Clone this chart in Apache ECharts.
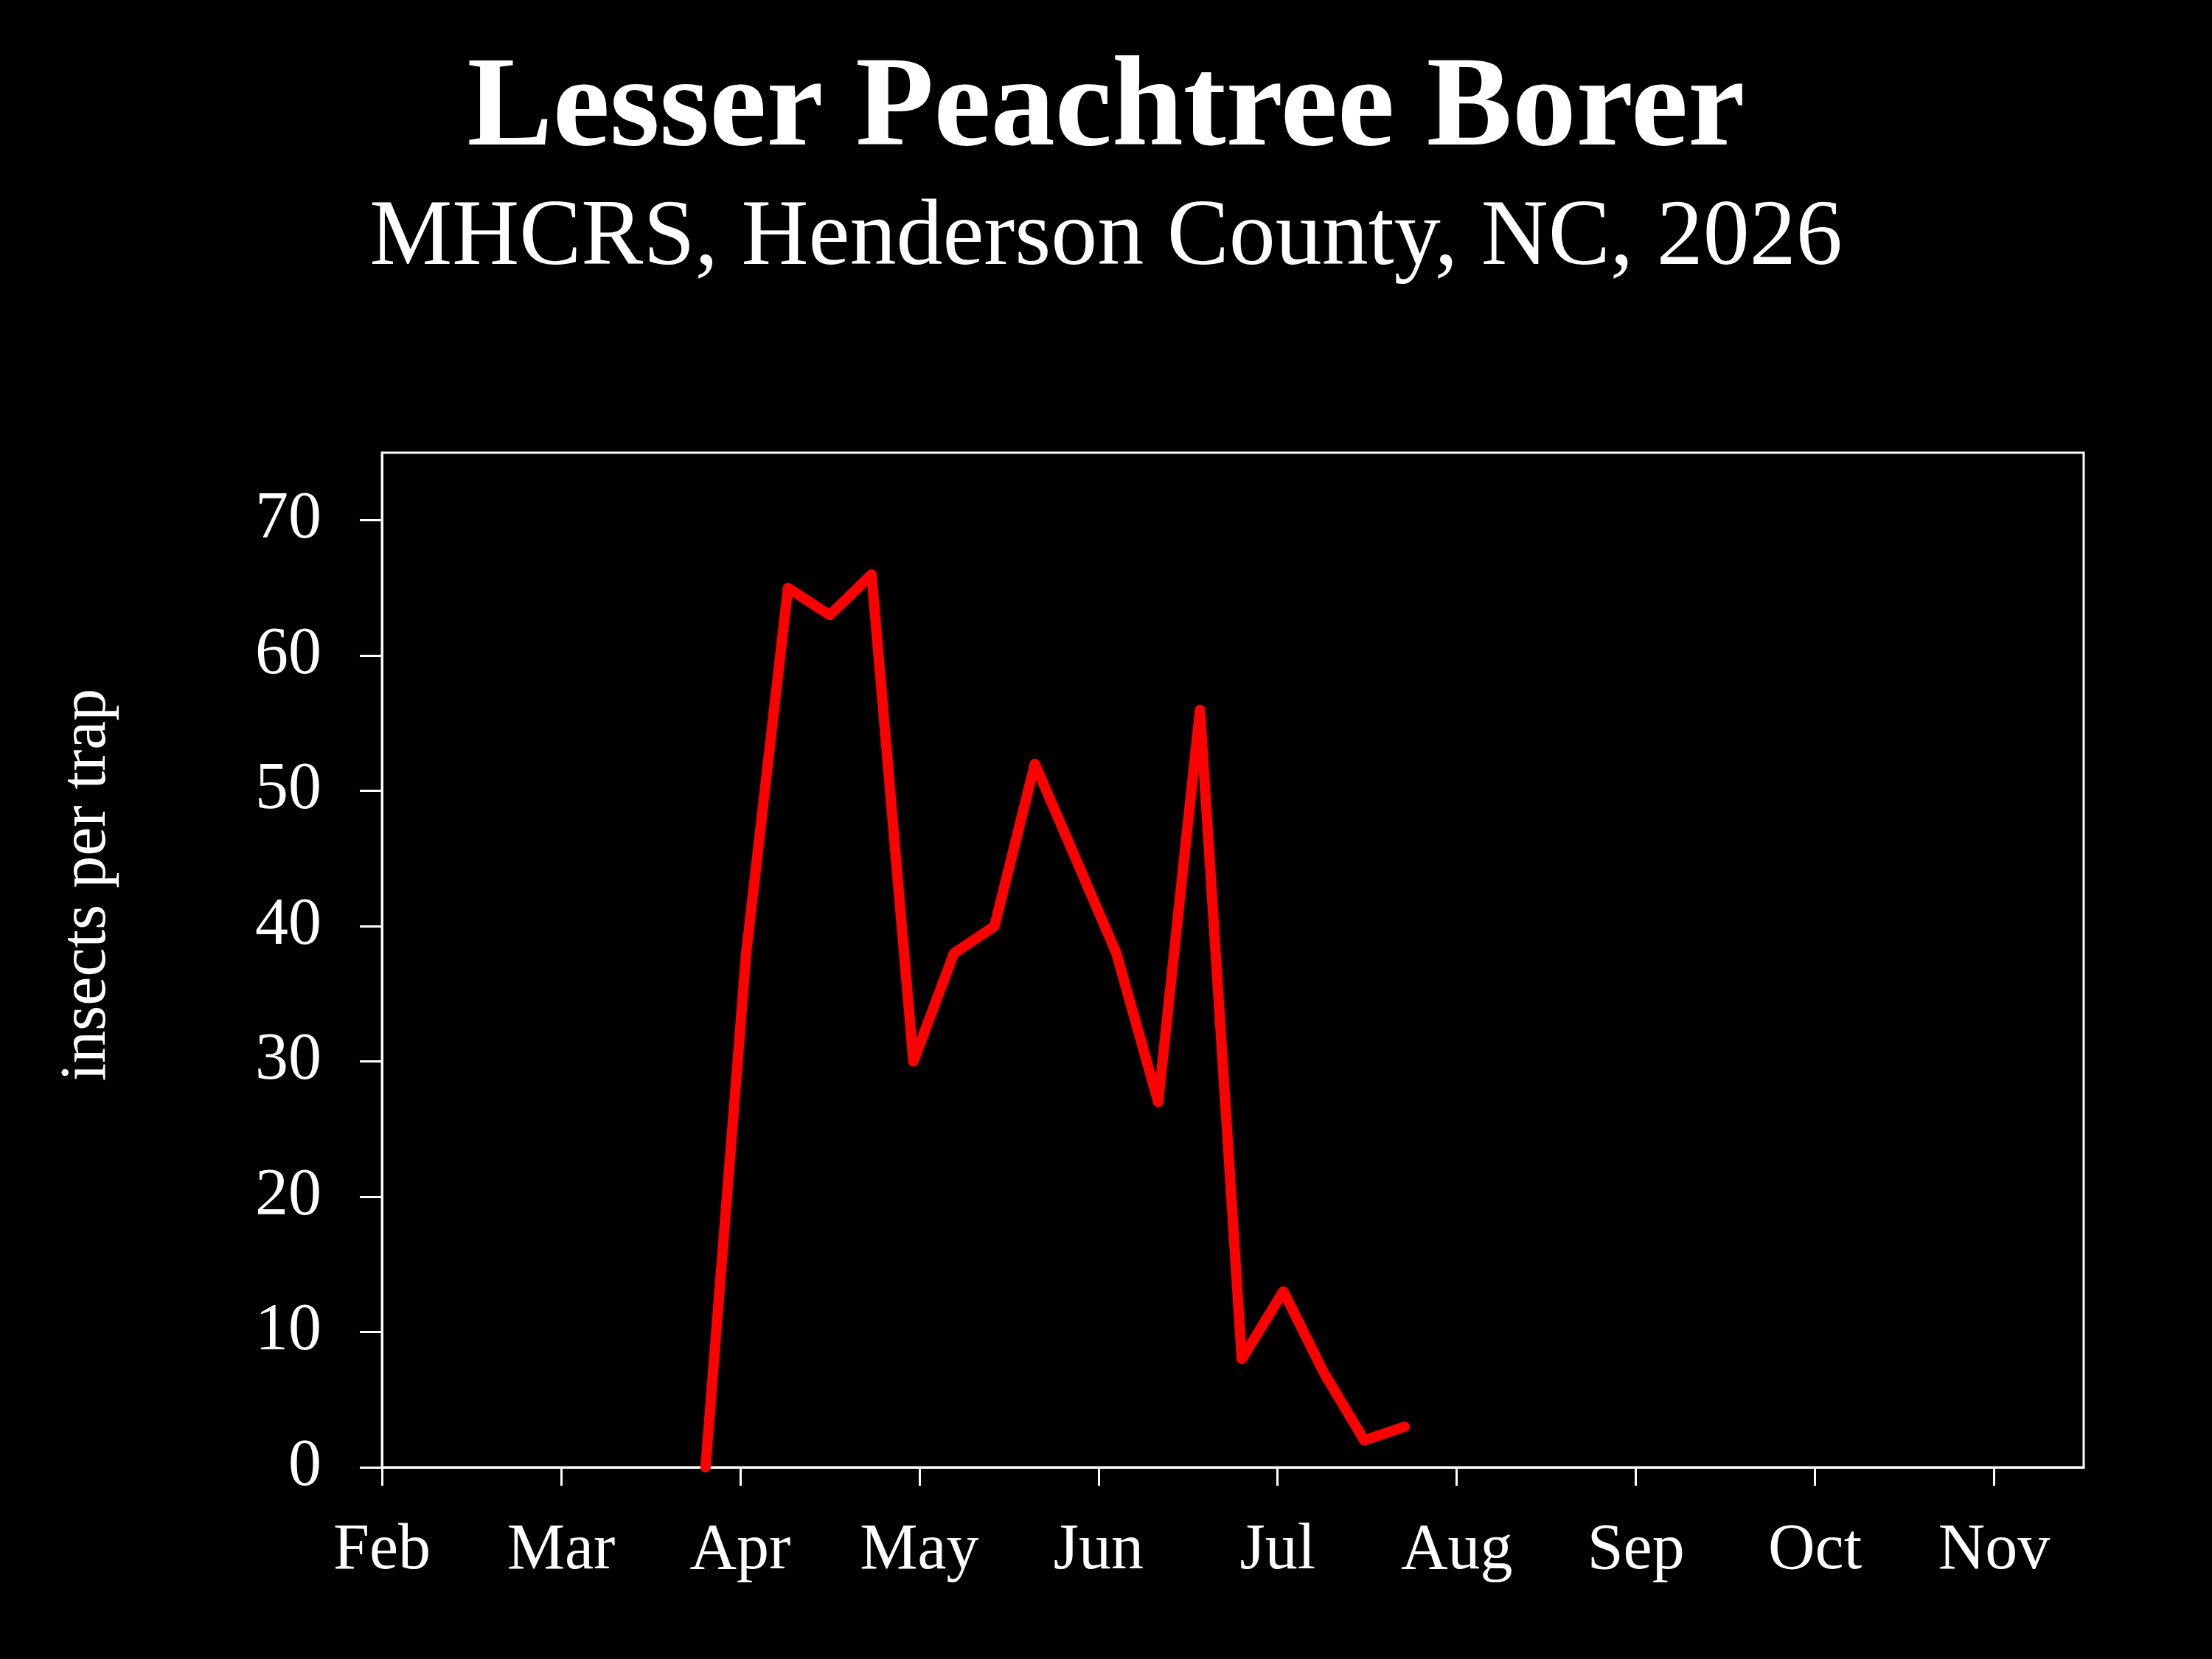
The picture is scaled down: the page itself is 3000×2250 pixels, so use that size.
<!DOCTYPE html>
<html><head><meta charset="utf-8">
<script src="https://cdn.jsdelivr.net/npm/echarts@6/dist/echarts.min.js"></script>
<style>html,body{margin:0;padding:0;background:#000}#c{width:3000px;height:2250px}</style>
</head><body><div id="c"></div>
<script>
const titleText = 'Lesser Peachtree Borer';
const subtitleText = 'MHCRS, Henderson County, NC, 2026';
const yAxisTitle = 'insects per trap';
const monthLabels = ['Feb','Mar','Apr','May','Jun','Jul','Aug','Sep','Oct','Nov'];
const monthTicks = [0,1,2,3,4,5,6,7,8,9];
const yTicks = [0,10,20,30,40,50,60,70];
const sampleDates = ['2026-03-26','2026-04-02','2026-04-09','2026-04-16','2026-04-23','2026-04-30',
  '2026-05-07','2026-05-14','2026-05-21','2026-06-04','2026-06-11','2026-06-18','2026-06-25',
  '2026-07-02','2026-07-09','2026-07-16','2026-07-23'];
const insectsPerTrap = [0,38,65,63,66,30,38,40,52,38,27,56,8,13,7,2,3];

// months drawn evenly spaced, Feb 1 = 0
function monthPos(s){
  const [y,m,d] = s.split('-').map(Number);
  const dim = new Date(y, m, 0).getDate();
  return (m - 2) + (d - 1) / dim;
}
const seriesData = sampleDates.map((s,i)=>[monthPos(s), insectsPerTrap[i]]);

const FONT = '"Liberation Serif","DejaVu Serif",serif';
const chart = echarts.init(document.getElementById('c'), null, {renderer:'canvas'});
chart.setOption({
  backgroundColor:'#000',
  animation:false,
  title:[
    {text:titleText, left:'center', top:59, textStyle:{color:'#fff', fontFamily:FONT, fontWeight:'bold', fontSize:174}},
    {text:subtitleText, left:'center', top:257, textStyle:{color:'#fff', fontFamily:FONT, fontWeight:'normal', fontSize:126}}
  ],
  graphic:[
    {type:'text', x:119, y:1200, rotation:Math.PI/2,
     style:{text:yAxisTitle, fill:'#fff', font:'88px ' + FONT, align:'center', verticalAlign:'middle'}}
  ],
  grid:{left:518, right:174, top:614, bottom:260, show:true, borderColor:'#fff', borderWidth:3, backgroundColor:'transparent', containLabel:false},
  xAxis:{
    type:'value', min:0, max:9.5,
    axisLine:{show:true, onZero:false, lineStyle:{color:'#fff', width:3}},
    axisTick:{show:true, customValues:monthTicks, length:25, lineStyle:{color:'#fff', width:3}},
    axisLabel:{customValues:monthTicks, formatter:v=>monthLabels[Math.round(v)], color:'#fff', fontFamily:FONT, fontSize:88, margin:70},
    splitLine:{show:false}
  },
  yAxis:{
    type:'value', min:0, max:75,
    axisLine:{show:true, lineStyle:{color:'#fff', width:3}},
    axisTick:{show:true, customValues:yTicks, length:30, lineStyle:{color:'#fff', width:3}},
    axisLabel:{customValues:yTicks, color:'#fff', fontFamily:FONT, fontSize:90, margin:82},
    splitLine:{show:false}
  },
  series:[{
    type:'line', data:seriesData, symbol:'none', clip:false,
    lineStyle:{color:'#ff0000', width:14, cap:'round', join:'round'}
  }]
});
</script></body></html>
